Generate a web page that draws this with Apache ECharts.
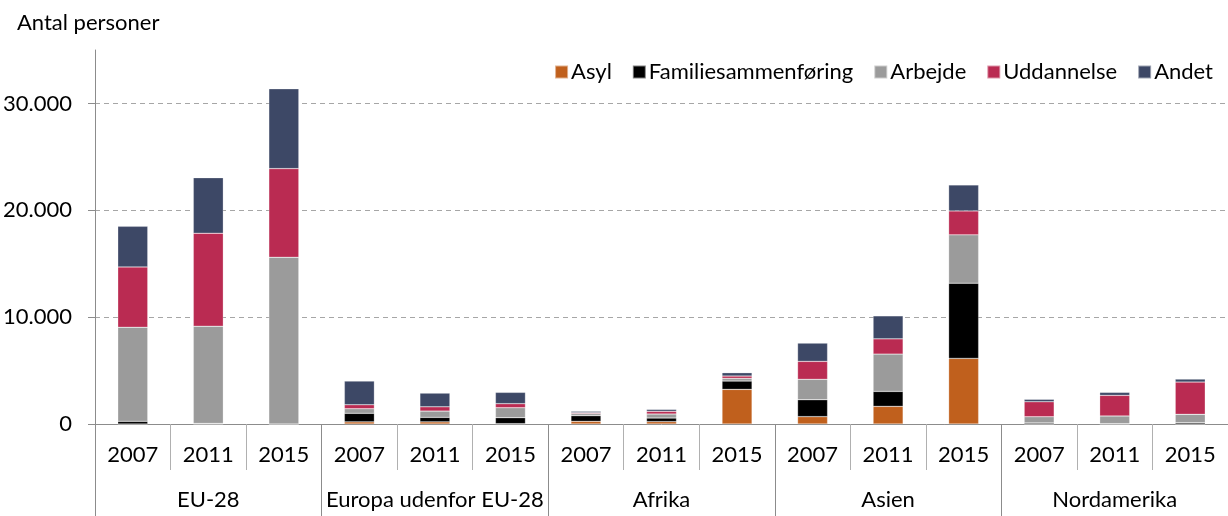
<!DOCTYPE html>
<html>
<head>
<meta charset="utf-8">
<script src="https://cdn.jsdelivr.net/npm/echarts@6/dist/echarts.min.js"></script>
<style>
  html, body { margin: 0; padding: 0; background: #fff; }
  #chart { width: 1228px; height: 516px; }
</style>
</head>
<body>
<div id="chart"></div>
<script>
var years = ['2007', '2011', '2015', '2007', '2011', '2015', '2007', '2011', '2015',
             '2007', '2011', '2015', '2007', '2011', '2015'];
var regions = ['EU-28', 'Europa udenfor EU-28', 'Afrika', 'Asien', 'Nordamerika'];
var yTicks = [0, 10000, 20000, 30000];

// per region: 2007, 2011, 2015
var asyl        = [0, 0, 0,          200, 200, 30,     250, 220, 3240,   690, 1650, 6140,   0, 0, 0];
var familie     = [250, 50, 0,       800, 420, 560,    530, 340, 780,    1580, 1400, 7040,  100, 30, 120];
var arbejde     = [8800, 9100, 15600, 430, 590, 935,   200, 375, 250,    1910, 3490, 4520,  580, 720, 785];
var uddannelse  = [5650, 8700, 8300,  370, 400, 375,   80, 250, 220,     1680, 1430, 2240,  1400, 1930, 3020];
var andet       = [3800, 5200, 7470,  2220, 1280, 1060, 130, 180, 310,   1710, 2150, 2430,  230, 280, 280];

var font = 'Lato, "Open Sans", sans-serif';
var axisGray = '#8c8c8c';

function fmt(v) {
    return String(v).replace(/\B(?=(\d{3})+(?!\d))/g, '.');
}

function bar(name, data, color) {
    return {
        name: name,
        type: 'bar',
        stack: 'total',
        barWidth: 30,
        data: data,
        itemStyle: { color: color, borderColor: 'rgba(255,255,255,0.5)', borderWidth: 0.5 }
    };
}

var myChart = echarts.init(document.getElementById('chart'));
var option = {
    animation: false,
    textStyle: { fontFamily: font },
    title: {
        text: 'Antal personer',
        left: 12,
        top: 7,
        textStyle: { fontFamily: font, fontSize: 22, fontWeight: 'normal', color: '#000' }
    },
    legend: {
        right: 10,
        top: 56,
        itemWidth: 13,
        itemHeight: 13,
        itemGap: 20,
        icon: 'rect',
        textStyle: { fontFamily: font, fontSize: 22, color: '#000', padding: [0, 0, 0, -2] },
        data: ['Asyl', 'Familiesammenføring', 'Arbejde', 'Uddannelse', 'Andet']
    },
    grid: { left: 95, right: 0, top: 50, bottom: 92, containLabel: false },
    xAxis: [
        {
            type: 'category',
            data: years,
            axisLine: { lineStyle: { color: axisGray, width: 1 } },
            axisTick: { show: true, interval: 0, length: 46, lineStyle: { color: '#b0b0b0' } },
            axisLabel: { interval: 0, margin: 20, fontSize: 22, color: '#000', fontFamily: font }
        },
        {
            type: 'category',
            data: regions,
            position: 'bottom',
            axisLine: { show: false },
            axisTick: { show: true, interval: 0, length: 92, lineStyle: { color: axisGray } },
            axisLabel: { interval: 0, margin: 65, fontSize: 22, color: '#000', fontFamily: font }
        }
    ],
    yAxis: {
        type: 'value',
        min: 0,
        max: 35000,
        interval: 10000,
        axisLine: { show: true, lineStyle: { color: axisGray } },
        axisTick: { show: true, length: 7, customValues: yTicks, lineStyle: { color: axisGray } },
        axisLabel: {
            margin: 23, fontSize: 22, color: '#000', fontFamily: font,
            formatter: function (v) { return v > 30000 ? '' : fmt(v); }
        },
        splitLine: {
            show: true,
            showMinLine: false,
            lineStyle: { color: '#a6a6a6', type: [5, 4], width: 1 }
        }
    },
    series: [
        bar('Asyl', asyl, '#c0601d'),
        bar('Familiesammenføring', familie, '#000000'),
        bar('Arbejde', arbejde, '#9b9b9b'),
        bar('Uddannelse', uddannelse, '#ba2b52'),
        bar('Andet', andet, '#3d4866')
    ]
};
myChart.setOption(option);
</script>
</body>
</html>
